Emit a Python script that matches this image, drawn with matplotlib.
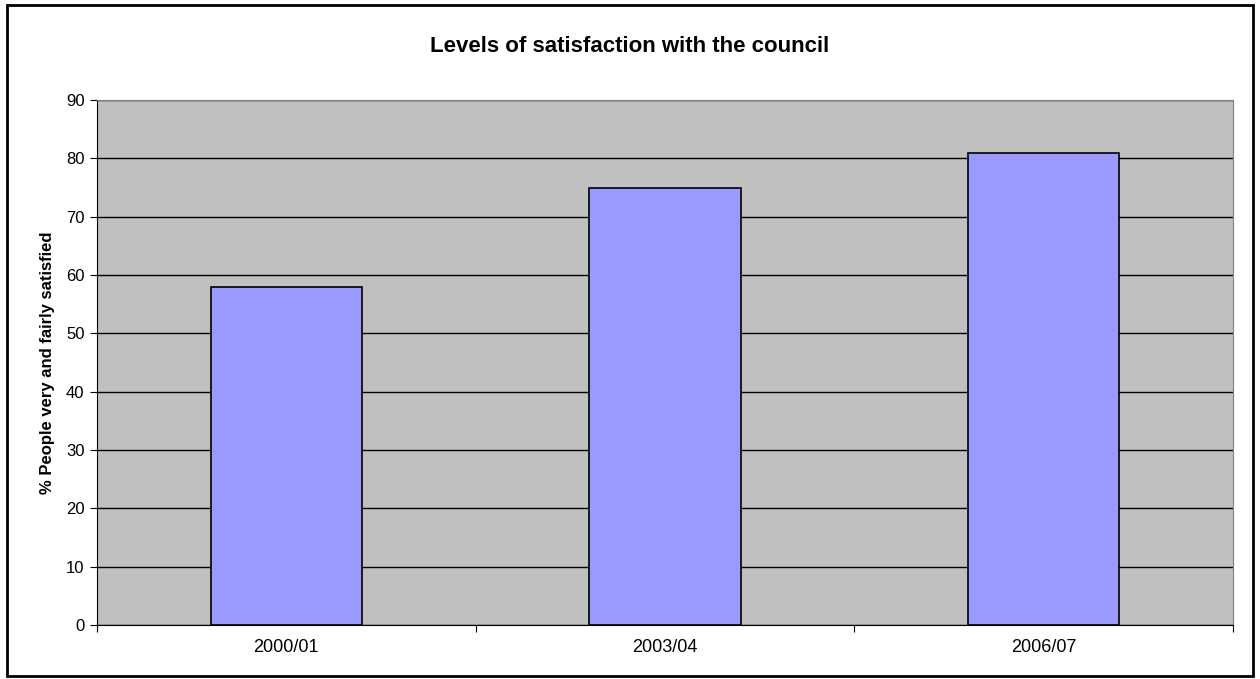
import matplotlib.pyplot as plt
from matplotlib.patches import Rectangle

categories = ["2000/01", "2003/04", "2006/07"]
values = [58, 75, 81]

plt.rcParams['font.family'] = ['Liberation Sans', 'DejaVu Sans']

fig = plt.figure(figsize=(12.6, 6.79), dpi=100)
ax = fig.add_axes([0.077, 0.0795, 0.9016, 0.7732])

# figure frame
fig.patches.append(Rectangle((0.0056, 0.004), 0.989, 0.9885, transform=fig.transFigure,
                             fill=False, edgecolor="black", linewidth=2))

ax.set_facecolor("#C0C0C0")
x = range(len(categories))
ax.bar(x, values, width=0.4, color="#9999FF", edgecolor="black", linewidth=1.2, zorder=3)

ax.set_xlim(-0.5, len(categories) - 0.5)
ax.set_ylim(0, 90)
ax.set_yticks(range(0, 91, 10))
ax.yaxis.grid(True, color="black", linewidth=1, zorder=1)
ax.set_axisbelow(True)

# major ticks between categories, labels on minor ticks
ax.set_xticks([i - 0.5 for i in range(len(categories) + 1)])
ax.set_xticklabels([])
ax.set_xticks(list(x), minor=True)
ax.set_xticklabels(categories, minor=True, fontsize=13)
ax.tick_params(axis="x", which="minor", length=0, pad=10)
ax.tick_params(axis="x", which="major", length=5, direction="out")
ax.tick_params(axis="y", length=5, direction="out", labelsize=12, pad=4)

for s in ["top", "right"]:
    ax.spines[s].set_color("#808080")
ax.spines["left"].set_color("black")
ax.spines["bottom"].set_color("black")

ax.set_ylabel("% People very and fairly satisfied", fontsize=12, fontweight="bold", labelpad=8)
fig.text(0.5, 0.932, "Levels of satisfaction with the council", ha="center", va="center",
         fontsize=16, fontweight="bold")

fig.savefig("out.png", dpi=100)
